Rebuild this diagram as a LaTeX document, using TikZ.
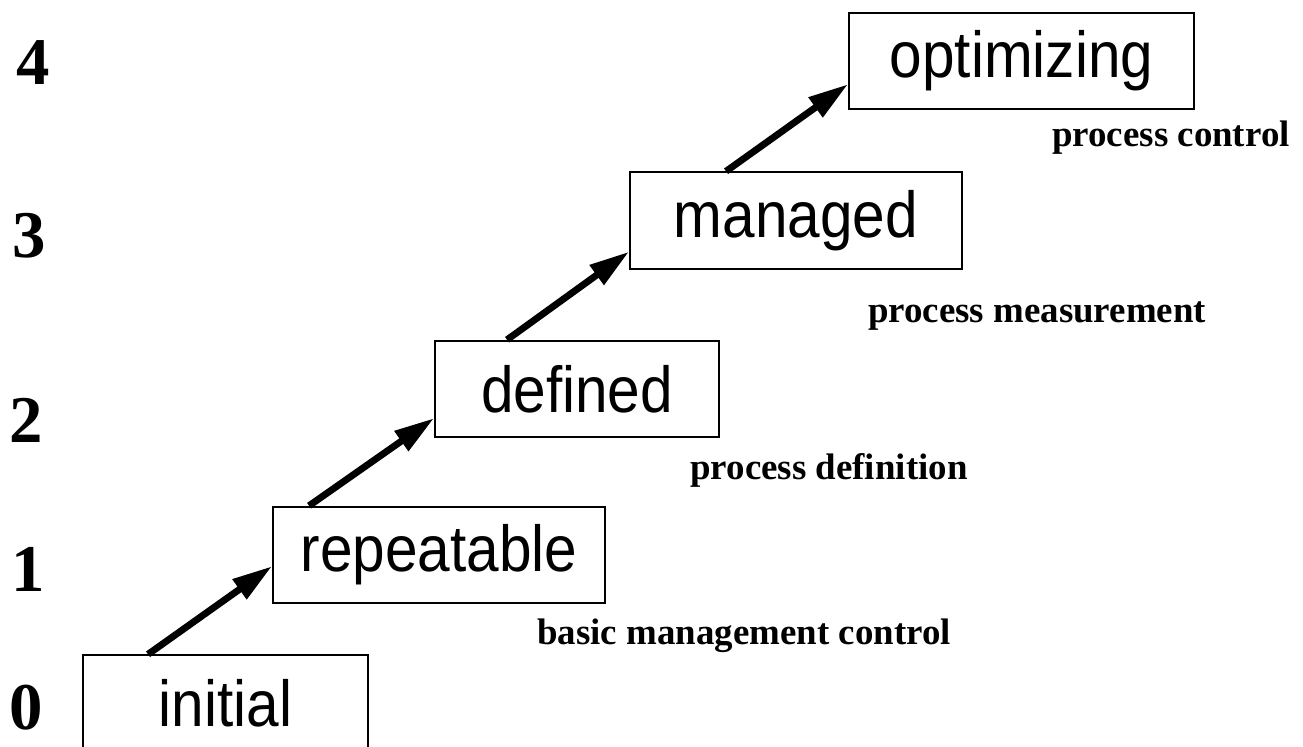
\documentclass[tikz,border=0pt]{standalone}
\usepackage{fontspec}
\setmainfont{Liberation Serif}
\newfontfamily\stagefont[FakeStretch=0.9]{Liberation Sans}
\usetikzlibrary{arrows.meta}

\begin{document}
\begin{tikzpicture}[
  stage/.style={draw,line width=1.1pt,inner sep=0pt,minimum height=1.93cm,
    font=\stagefont\fontsize{37}{37}\selectfont},
  lvl/.style={anchor=base,font=\bfseries\fontsize{38}{38}\selectfont},
  kpa/.style={anchor=base,font=\bfseries\fontsize{21}{21}\selectfont},
  up/.style={-{Triangle[length=0.8cm,width=0.46cm]},line width=3.9pt}]
\clip (0,0) rectangle (26.06,14.92);
% the five stages
\node[stage,minimum width=5.7cm]  (initial)    at (4.51,0.85)   {initial};
\node[stage,minimum width=6.64cm] (repeatable) at (8.78,3.82)   {repeatable};
\node[stage,minimum width=5.68cm] (defined)    at (11.54,7.14)  {defined};
\node[stage,minimum width=6.64cm] (managed)    at (15.92,10.51) {managed};
\node[stage,minimum width=6.9cm]  (optimizing) at (20.43,13.70) {optimizing};
% level numbers
\node[lvl] (l0) at (0.52,0.32)  {0};
\node[lvl] (l1) at (0.56,3.08)  {1};
\node[lvl] (l2) at (0.52,6.06)  {2};
\node[lvl] (l3) at (0.58,9.76)  {3};
\node[lvl] (l4) at (0.66,13.22) {4};
% key process areas
\node[kpa] (k1) at (14.88,2.02)  {basic management control};
\node[kpa] (k2) at (16.58,5.32)  {process definition};
\node[kpa] (k3) at (20.74,8.46)  {process measurement};
\node[kpa] (k4) at (23.42,11.98) {process control};
% steps up
\draw[up] ([xshift=1.32cm]initial.north west)    -- ([yshift=0.76cm]repeatable.south west);
\draw[up] ([xshift=0.74cm]repeatable.north west) -- ([yshift=0.4cm]defined.south west);
\draw[up] ([xshift=1.46cm]defined.north west)    -- ([yshift=0.36cm]managed.south west);
\draw[up] ([xshift=1.94cm]managed.north west)    -- ([yshift=0.52cm]optimizing.south west);
\end{tikzpicture}
\end{document}
